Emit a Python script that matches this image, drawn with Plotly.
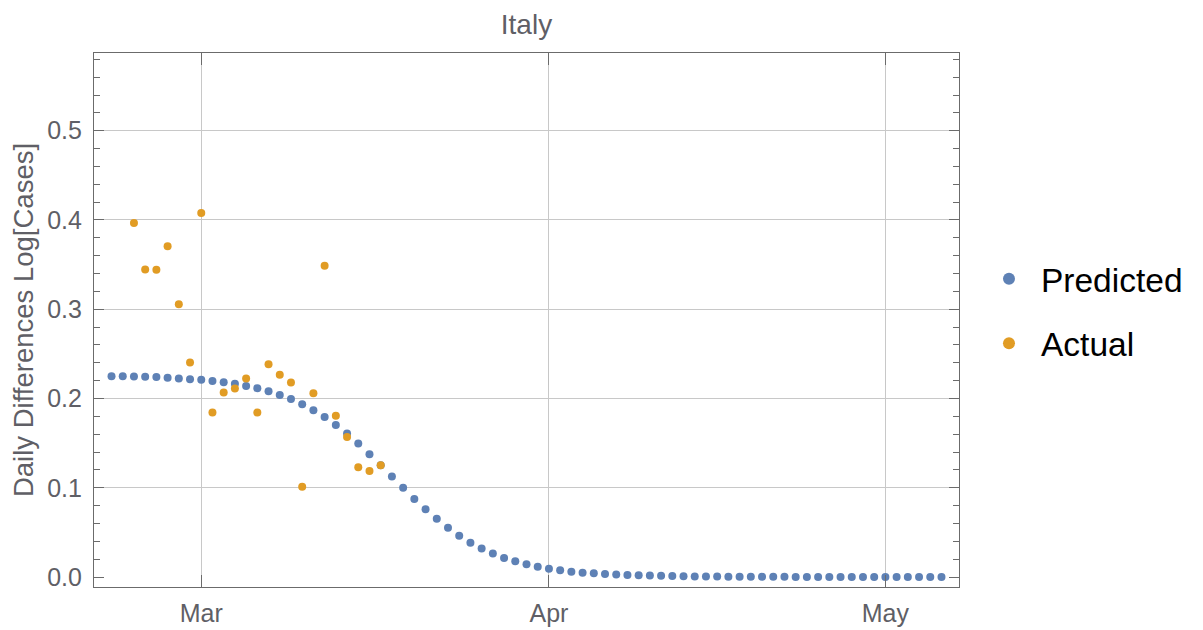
import pandas as pd
import plotly.graph_objects as go

# ---------------- data ----------------
pred_start = "2020-02-22"
predicted = [
    0.2250, 0.2248, 0.2247, 0.2245, 0.2240, 0.2232, 0.2224, 0.2215,
    0.2209, 0.2197, 0.2182, 0.2165, 0.2141, 0.2115, 0.2081, 0.2040,
    0.1994, 0.1936, 0.1869, 0.1792, 0.1704, 0.1607, 0.1495, 0.1375,
    0.1252, 0.1125, 0.1001, 0.0874, 0.0759, 0.0654, 0.0553, 0.0463,
    0.0385, 0.0318, 0.0262, 0.0213, 0.0176, 0.0142, 0.0116, 0.0093,
    0.0075, 0.0060, 0.0049, 0.0041, 0.0034, 0.0028, 0.0023, 0.0019,
    0.0016, 0.0013, 0.0011, 0.0009, 0.0007, 0.0006, 0.0005, 0.0004,
    0.0003, 0.0003, 0.0002, 0.0002, 0.0002, 0.0001, 0.0001, 0.0001,
    0.0001, 0.0001, 0.0001, 0.0001, 0.0001, 0.0001, 0.0000, 0.0000,
    0.0000, 0.0000, 0.0000,
]
act_start = "2020-02-24"
actual = [
    0.3965, 0.3445, 0.3442, 0.3707, 0.3057, 0.2403, 0.4077, 0.1842,
    0.2066, 0.2111, 0.2223, 0.1842, 0.2384, 0.2265, 0.2178, 0.1012,
    0.2059, 0.3487, 0.1808, 0.1570, 0.1230, 0.1188, 0.1252,
]
x_tick_vals = ["2020-03-01", "2020-04-01", "2020-05-01"]
x_tick_text = ["Mar", "Apr", "May"]
y_tick_vals = [0.0, 0.1, 0.2, 0.3, 0.4, 0.5]
y_grid_vals = [0.1, 0.2, 0.3, 0.4, 0.5]
x_range = ["2020-02-20 10:30", "2020-05-07 13:30"]
y_range = [-0.0112, 0.5871]

pred_dates = pd.date_range(pred_start, periods=len(predicted), freq="D")
act_dates = pd.date_range(act_start, periods=len(actual), freq="D")

BLUE = "#5E81B5"
ORANGE = "#E19C24"
FRAME = "#6b6b6b"
TXT = "#5f5f66"
GRID = "#c8c8c8"
FONT = "Liberation Sans, Arial, sans-serif"

# the page body adds an 8px offset; figure coords = screen coords - 8
L, T, R, B = 86, 45, 951, 579

fig = go.Figure()
fig.add_trace(go.Scatter(x=pred_dates, y=predicted, mode="markers", name="Predicted",
                         legendgroup="p",
                         marker=dict(color=BLUE, size=8, line=dict(width=0))))
fig.add_trace(go.Scatter(x=act_dates, y=actual, mode="markers", name="Actual",
                         legendgroup="a",
                         marker=dict(color=ORANGE, size=8, line=dict(width=0))))
# grid-only overlay axis (no gridline at 0.0)
fig.add_trace(go.Scatter(x=[None], y=[None], yaxis="y2", showlegend=False, hoverinfo="skip"))

fig.update_layout(
    width=1203, height=630,
    margin=dict(l=L, r=1203 - R, t=T, b=630 - B, autoexpand=False),
    paper_bgcolor="white", plot_bgcolor="white",
    font=dict(family=FONT, color=TXT, size=22),
    title=dict(text="Italy", x=(L + R) / 2 / 1203, xanchor="center",
               y=1 - 16.5 / 630, yanchor="middle", yref="container",
               font=dict(size=28, color=TXT, family=FONT)),
    showlegend=True,
    legend=dict(x=1.0208, xanchor="left", y=0.516, yanchor="middle",
                font=dict(size=33.5, color="black", family=FONT),
                itemsizing="constant", itemwidth=54, tracegroupgap=18,
                bgcolor="rgba(0,0,0,0)"),
    xaxis=dict(type="date", range=x_range, tickvals=x_tick_vals, ticktext=x_tick_text,
               showgrid=True, gridcolor=GRID, gridwidth=1.2, automargin=False,
               showline=True, linecolor=FRAME, linewidth=1.2, mirror="ticks",
               ticks="inside", ticklen=12, tickcolor=FRAME, tickwidth=1.2,
               ticklabelstandoff=4,
               tickfont=dict(size=25, color=TXT), zeroline=False),
    yaxis=dict(range=y_range, tickvals=y_tick_vals, tickformat=".1f",
               showgrid=False, zeroline=False, automargin=False,
               showline=True, linecolor=FRAME, linewidth=1.2, mirror="ticks",
               ticks="inside", ticklen=10, tickcolor=FRAME, tickwidth=1.2,
               ticklabelstandoff=6,
               minor=dict(dtick=0.02, tick0=0, ticks="inside", ticklen=6,
                          tickcolor=FRAME, tickwidth=1, showgrid=False),
               tickfont=dict(size=25, color=TXT),
               title=dict(text="Daily Differences Log[Cases]", standoff=18,
                          font=dict(size=27.5, color=TXT))),
    yaxis2=dict(range=y_range, overlaying="y", side="left", tickvals=y_grid_vals,
                showgrid=True, gridcolor=GRID, gridwidth=1.2, automargin=False,
                showticklabels=False, ticks="", showline=False, zeroline=False),
)

fig.write_html("out.html")
